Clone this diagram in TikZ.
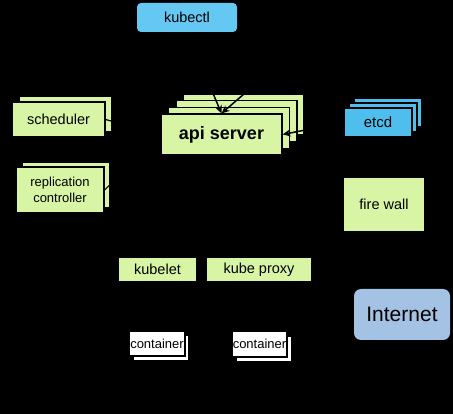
\documentclass[tikz,border=0pt]{standalone}
\usepackage{fontspec}
\setmainfont{Liberation Sans}
\usetikzlibrary{arrows.meta}
\definecolor{kgreen}{RGB}{215,245,165}
\definecolor{kblue}{RGB}{100,200,242}
\definecolor{etcdblue}{RGB}{78,190,236}
\definecolor{netblue}{RGB}{164,194,228}
\tikzset{
  box/.style={draw=black, line width=1.2pt, fill=kgreen, inner sep=0pt,
    font=\fontsize{14.5}{16}\selectfont},
  bluebox/.style={box, fill=etcdblue, font=\fontsize{15}{17}\selectfont},
  cbox/.style={box, fill=white, font=\fontsize{13}{15}\selectfont},
  rbox/.style={draw=none, fill=kblue, rounded corners=4pt, inner sep=0pt,
    font=\fontsize{14.5}{16}\selectfont},
  arr/.style={draw=black, line width=1.5pt, -{Stealth[length=8pt,width=7pt]}},
  conn/.style={draw=black, line width=1.2pt}
}
\begin{document}
\begin{tikzpicture}[x=1pt,y=-1pt]
\fill[black] (0,0) rectangle (453,414);
\useasboundingbox (0,0) rectangle (453,414);

% kubectl
\node[rbox, minimum width=100pt, minimum height=29pt] (kubectl) at (187,17.5) {kubectl};

% api server stack
\node[box, minimum width=121pt, minimum height=41pt] (api4) at (243.5,114.5) {};
\node[box, minimum width=121pt, minimum height=41pt] (api3) at (236.5,121.2) {};
\node[box, minimum width=121pt, minimum height=41pt] (api2) at (229,127.8) {};
\node[box, minimum width=121pt, minimum height=41pt, font=\fontsize{18}{20}\selectfont\bfseries] (api) at (221.5,134.5) {api server};

% scheduler stack
\node[box, minimum width=93pt, minimum height=35pt] (sched2) at (65.5,114) {};
\node[box, minimum width=93pt, minimum height=35pt] (sched) at (58.5,119.5) {scheduler};

% replication controller stack
\node[box, minimum width=88pt, minimum height=46pt] (rc2) at (66,185) {};
\node[box, minimum width=88pt, minimum height=46pt, align=center,
  font=\fontsize{13}{16}\selectfont] (rc) at (60,190) {replication\\controller};

% etcd stack
\node[bluebox, minimum width=68pt, minimum height=29pt] (etcd3) at (388,112.5) {};
\node[bluebox, minimum width=68pt, minimum height=29pt] (etcd2) at (383,117.5) {};
\node[bluebox, minimum width=68pt, minimum height=29pt] (etcd) at (378,122.5) {etcd};

% fire wall
\node[box, draw=none, minimum width=80pt, minimum height=53pt] (fw) at (384,204.5) {fire wall};

% kubelet and kube proxy
\node[box, draw=none, minimum width=77pt, minimum height=23pt] (kubelet) at (157.5,269.5) {kubelet};
\node[box, draw=none, minimum width=104pt, minimum height=23pt] (proxy) at (259,269.5) {kube proxy};

% Internet
\node[rbox, fill=netblue, rounded corners=7pt, minimum width=96pt, minimum height=51pt,
  font=\fontsize{21}{24}\selectfont] (net) at (402,314.5) {Internet};

% containers
\node[cbox, minimum width=56pt, minimum height=25pt] (cont1b) at (161,348) {};
\node[cbox, minimum width=56pt, minimum height=25pt] (cont1) at (157,343.5) {container};
\node[cbox, minimum width=55pt, minimum height=26pt] (cont2b) at (264,349) {};
\node[cbox, minimum width=55pt, minimum height=26pt] (cont2) at (259.5,344) {container};

% connectors
\coordinate (ext) at (295,50);
\draw[arr] (kubectl.south) -- (api.north);
\draw[arr] (ext) -- (api.north);
\draw[arr] (etcd.west) -- (api.east);
\draw[conn] (sched.east) -- (api.west);
\draw[conn] (rc.east) -- (api.west);
\end{tikzpicture}
\end{document}
